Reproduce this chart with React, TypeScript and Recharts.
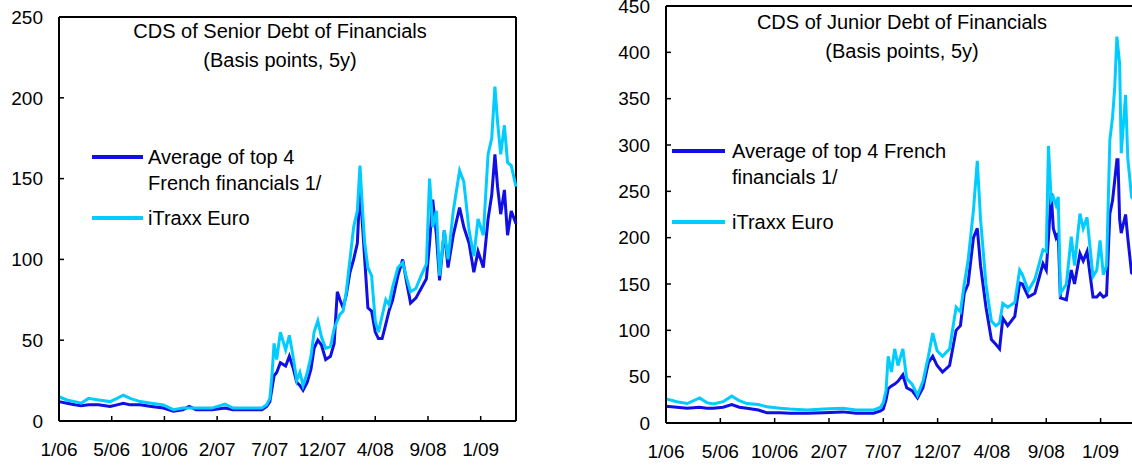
import React from 'react';
import { LineChart, Line, XAxis, YAxis, ReferenceLine, Legend } from 'recharts';

const FONT = '"Liberation Sans", Arial, sans-serif';
const DARK_BLUE = '#0F0FE6';
const CYAN = '#00CCFF';

// x axis is business days from 1/06, tick every 100 days
const xTicks = [0, 100, 200, 300, 400, 500, 600, 700, 800];
const xLabels = ['1/06', '5/06', '10/06', '2/07', '7/07', '12/07', '4/08', '9/08', '1/09'];

const seniorTicks = [0, 50, 100, 150, 200, 250];
const juniorTicks = [0, 50, 100, 150, 200, 250, 300, 350, 400, 450];

// Senior debt panel
const seniorDays = [
  0, 15, 30, 42, 56, 75, 97, 110, 122, 135,
  154, 175, 198, 217, 235, 247, 260, 290, 315, 330,
  360, 385, 394, 400, 404, 408, 413, 420, 430, 437,
  444, 451, 457, 463, 471, 478, 484, 491, 498, 506,
  515, 522, 528, 533, 539, 545, 552, 559, 566, 571,
  576, 580, 586, 593, 600, 606, 613, 620, 626, 633,
  643, 652, 660, 667, 677, 687, 697, 703, 709, 716,
  722, 731, 738, 748, 760, 768, 778, 787, 795, 805,
  814, 821, 827, 832, 838, 845, 851, 858, 867,
];
const seniorAvg = [
  12, 11, 10, 9.5, 10, 10, 9, 10, 11, 10,
  10, 9, 8, 6, 7, 9, 7, 7, 8, 7,
  7, 7, 9, 12, 20, 28, 30, 36, 34, 40,
  33, 24, 22, 19, 24, 32, 45, 50, 47, 38,
  40, 48, 80, 75, 70, 78, 92, 100, 110, 145,
  120, 100, 70, 68, 55, 51, 51, 60, 68, 75,
  90, 100, 85, 73, 76, 82, 88, 110, 137, 115,
  87, 118, 95, 115, 132, 120, 110, 92, 105, 95,
  125, 140, 165, 145, 128, 143, 115, 130, 122,
];
const seniorItraxx = [
  15, 13, 12, 11, 14, 13, 12, 14, 16, 14,
  12, 11, 10, 7, 8, 8, 8, 8, 10.5, 8,
  8, 8, 10, 14, 28, 48, 38, 55, 44, 53,
  40, 25, 30, 22, 30, 40, 55, 62, 52, 45,
  46, 57, 62, 66, 68, 80, 100, 120, 130, 158,
  130, 110, 95, 90, 62, 55, 65, 75, 72, 83,
  95, 98, 88, 80, 82, 90, 97, 150, 120, 130,
  90, 118, 100, 130, 155, 148, 118, 102, 125, 115,
  165, 175, 207, 185, 165, 183, 160, 158, 145,
];

// Junior debt panel
const juniorDays = [
  0, 20, 39, 62, 75, 87, 105, 121, 135, 149,
  170, 186, 210, 228, 260, 290, 325, 350, 382, 395,
  400, 405, 409, 415, 421, 427, 436, 443, 453, 463,
  473, 483, 491, 499, 509, 522, 534, 542, 549, 556,
  566, 573, 579, 589, 599, 607, 614, 620, 629, 642,
  651, 656, 667, 679, 694, 700, 704, 709, 713, 718,
  722, 726, 737, 746, 752, 762, 768, 775, 786, 793,
  799, 805, 811, 817, 822, 826, 830, 832, 835, 838,
  846, 850, 857, 862,
];
const juniorAvg = [
  18, 17, 16, 17, 16, 16, 17, 20, 17, 16,
  14, 11, 11, 10.5, 10.5, 11, 12, 10.5, 10.5, 13,
  15, 25, 37, 40, 42, 45, 52, 38, 35, 27,
  38, 65, 72, 62, 55, 62, 100, 105, 140, 150,
  200, 210, 170, 125, 90, 85, 80, 113, 105, 115,
  151, 150, 136, 140, 172, 165, 200, 248, 210, 200,
  205, 135, 133, 165, 150, 183, 175, 185, 136, 136,
  140, 136, 138, 226, 240, 262, 284, 284, 220, 205,
  225, 200, 162, 160,
];
const juniorItraxx = [
  26, 23, 21, 27, 22, 20.5, 23, 29, 24, 21,
  20, 17.5, 16, 15, 14, 15, 16, 14, 14, 17,
  22, 35, 72, 55, 80, 62, 80, 48, 42, 30,
  45, 72, 97, 78, 72, 80, 125, 120, 150, 175,
  230, 283, 220, 150, 110, 105, 108, 129, 125, 130,
  165, 160, 143, 155, 187, 185, 299, 240, 244, 235,
  244, 140, 150, 201, 170, 226, 210, 222, 158, 165,
  197, 160, 170, 305, 330, 362, 417, 405, 388, 291,
  354, 286, 244, 240,
];

const seniorData = seniorDays.map((t, i) => ({ t, avg: seniorAvg[i], itraxx: seniorItraxx[i] }));
const juniorData = juniorDays.map((t, i) => ({ t, avg: juniorAvg[i], itraxx: juniorItraxx[i] }));

const makeLegend = (labels: string[][], swatchW: number, gap: number, rowGap: number) => (props: any) => (
  <div style={{ fontFamily: FONT, fontSize: 20, lineHeight: '26px', color: '#000' }}>
    {(props.payload || []).map((entry: any, i: number) => (
      <div key={i} style={{ display: 'flex', alignItems: 'flex-start', marginTop: i === 0 ? 0 : rowGap }}>
        <div style={{ width: swatchW, height: 4, background: entry.color, marginTop: 11, marginRight: gap, flex: 'none' }} />
        <div style={{ whiteSpace: 'nowrap' }}>
          {labels[i].map((l, j) => (
            <div key={j}>{l}</div>
          ))}
        </div>
      </div>
    ))}
  </div>
);

interface PanelProps {
  left: number;
  width: number;
  data: any[];
  yMax: number;
  yTicks: number[];
  marginTop: number;
  marginRight: number;
  yAxisWidth: number;
  xAxisHeight: number;
  title: string[];
  titleCenter: number;
  titleTop: number;
  legendLeft: number;
  legendTop: number;
  legendLabels: string[][];
  swatchW: number;
  swatchGap: number;
  rowGap: number;
}

const Panel: React.FC<PanelProps> = (p) => (
  <div style={{ position: 'absolute', left: p.left, top: 0, width: p.width, height: 466 }}>
    <LineChart
      width={p.width}
      height={466}
      data={p.data}
      margin={{ top: p.marginTop, right: p.marginRight, bottom: 0, left: 0 }}
    >
      <XAxis
        type="number"
        dataKey="t"
        domain={[0, 867]}
        ticks={xTicks}
        interval={0}
        tickFormatter={(v: number) => xLabels[xTicks.indexOf(v)]}
        height={p.xAxisHeight}
        axisLine={{ stroke: '#000', strokeWidth: 2 }}
        tickLine={{ stroke: '#000', strokeWidth: 1.5 }}
        tickSize={-5}
        tickMargin={27}
        tick={{ fill: '#000', fontSize: 19, fontFamily: FONT }}
      />
      <YAxis
        domain={[0, p.yMax]}
        ticks={p.yTicks}
        interval={0}
        width={p.yAxisWidth}
        axisLine={{ stroke: '#000', strokeWidth: 2 }}
        tickLine={{ stroke: '#000', strokeWidth: 1.5 }}
        tickSize={-5}
        tickMargin={21}
        tick={{ fill: '#000', fontSize: 19, fontFamily: FONT }}
      />
      <ReferenceLine y={p.yMax} stroke="#000" strokeWidth={2} />
      <ReferenceLine x={867} stroke="#000" strokeWidth={2} />
      <Legend
        layout="horizontal"
        verticalAlign="middle"
        align="center"
        wrapperStyle={{ left: p.legendLeft, top: p.legendTop, width: 400, height: 'auto' }}
        content={makeLegend(p.legendLabels, p.swatchW, p.swatchGap, p.rowGap)}
      />
      <Line
        type="linear"
        dataKey="avg"
        name="Average of top 4 French financials 1/"
        stroke={DARK_BLUE}
        strokeWidth={3}
        dot={false}
        isAnimationActive={false}
      />
      <Line
        type="linear"
        dataKey="itraxx"
        name="iTraxx Euro"
        stroke={CYAN}
        strokeWidth={3}
        dot={false}
        isAnimationActive={false}
      />
    </LineChart>
    <div
      style={{
        position: 'absolute',
        left: p.titleCenter - 200,
        top: p.titleTop,
        width: 400,
        textAlign: 'center',
        fontFamily: FONT,
        fontSize: 20,
        lineHeight: '29px',
        color: '#000',
      }}
    >
      {p.title.map((l, i) => (
        <div key={i}>{l}</div>
      ))}
    </div>
  </div>
);

export default function App() {
  return (
    <div style={{ position: 'absolute', left: 0, top: 0, width: 1132, height: 466, overflow: 'hidden', background: '#fff' }}>
      <Panel
        left={0}
        width={530}
        data={seniorData}
        yMax={250}
        yTicks={seniorTicks}
        marginTop={17}
        marginRight={14}
        yAxisWidth={59}
        xAxisHeight={45}
        title={['CDS of Senior Debt of Financials', '(Basis points, 5y)']}
        titleCenter={280}
        titleTop={17}
        legendLeft={92}
        legendTop={144}
        legendLabels={[['Average of top 4', 'French financials 1/'], ['iTraxx Euro']]}
        swatchW={51}
        swatchGap={5}
        rowGap={9}
      />
      <Panel
        left={600}
        width={540}
        data={juniorData}
        yMax={450}
        yTicks={juniorTicks}
        marginTop={6}
        marginRight={3}
        yAxisWidth={66}
        xAxisHeight={43}
        title={['CDS of Junior Debt of Financials', '(Basis points, 5y)']}
        titleCenter={302}
        titleTop={8}
        legendLeft={72}
        legendTop={138}
        legendLabels={[['Average of top 4 French', 'financials 1/'], ['iTraxx Euro']]}
        swatchW={53}
        swatchGap={7}
        rowGap={19}
      />
    </div>
  );
}
